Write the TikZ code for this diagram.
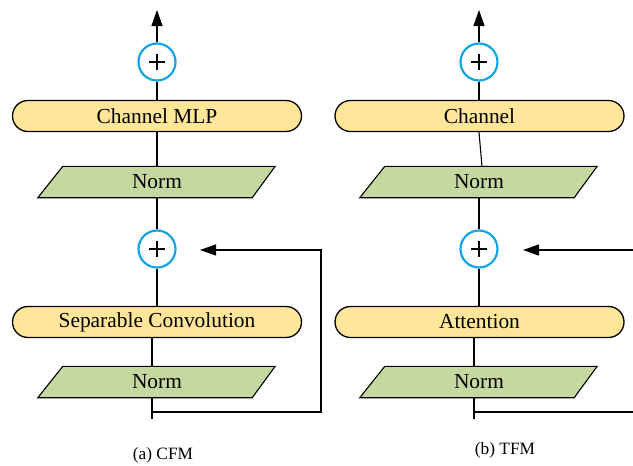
\documentclass[tikz,border=0pt]{standalone}
\usepackage{fontspec}
\setmainfont{Liberation Serif}
\usetikzlibrary{arrows.meta,calc}
\definecolor{pillfill}{HTML}{FFE699}
\definecolor{normfill}{HTML}{C5D8A0}
\definecolor{plusblue}{HTML}{12A5E6}
\pgfdeclarelayer{background}
\pgfsetlayers{background,main}
\tikzset{
  pill/.style={draw, line width=1.3pt, fill=pillfill, rounded corners=15.5pt,
    minimum width=289pt, minimum height=31pt, inner sep=0pt,
    font=\fontsize{21.4}{24}\selectfont},
  normtext/.style={minimum width=212pt, minimum height=31pt, inner sep=0pt,
    font=\fontsize{21.4}{24}\selectfont},
  normshape/.style={draw, line width=1.1pt, fill=normfill},
  plusnode/.style={circle, draw=plusblue, line width=2.2pt, minimum size=37pt, inner sep=0pt,
    path picture={\draw[line width=1.8pt,black]
      ([xshift=-8pt]path picture bounding box.center) -- ([xshift=8pt]path picture bounding box.center)
      ([yshift=-8pt]path picture bounding box.center) -- ([yshift=8pt]path picture bounding box.center);}},
  conn/.style={line width=1.1pt},
  arr/.style={line width=1.1pt, -{Triangle[length=16pt,width=11pt]}},
  captext/.style={font=\fontsize{17.3}{20}\selectfont, inner sep=0pt}
}
\newcommand\paraframe[1]{%
  \begin{pgfonlayer}{background}
  \path[normshape] ($(#1.south west)+(-13,0)$) -- ($(#1.south east)+(-11,0)$)
    -- ($(#1.north east)+(12,0)$) -- ($(#1.north west)+(12,0)$) -- cycle;
  \end{pgfonlayer}}
\begin{document}
\begin{tikzpicture}[x=1pt,y=-1pt]
\useasboundingbox (0,0) rectangle (633,466);
% ---------- left: CFM ----------
\node[plusnode] (pa1) at (157,62) {};
\node[pill] (ca) at (157,116) {Channel MLP};
\node[normtext] (na1) at (157,182) {Norm};
\paraframe{na1}
\node[plusnode] (pa2) at (157,249) {};
\node[pill] (sa) at (157,322) {Separable Convolution};
\node[normtext] (na2) at (157,382) {Norm};
\paraframe{na2}
\coordinate (outa) at (157,10);
\coordinate (ina) at (152,419);
\coordinate (skipa) at (152,412);
\coordinate (cornera) at (321,250);
\coordinate (tipa) at (200,250);
\draw[arr] (pa1) -- (outa);
\draw[conn] (ca.north) -- (pa1);
\draw[conn] (na1.north) -- (ca.south);
\draw[conn] (pa2) -- (na1.south);
\draw[conn] (sa.north) -- (pa2);
\draw[conn] ([xshift=-5pt]sa.south) -- ([xshift=-5pt]na2.north);
\draw[conn] (ina) -- ([xshift=-5pt]na2.south);
\draw[arr] (skipa) -| (cornera) -- (tipa);
% ---------- right: TFM ----------
\node[plusnode] (pb1) at (479,62) {};
\node[pill] (cb) at (479.5,116) {Channel};
\node[normtext] (nb1) at (479,182) {Norm};
\paraframe{nb1}
\node[plusnode] (pb2) at (479,249) {};
\node[pill] (ab) at (479.5,322) {Attention};
\node[normtext] (nb2) at (479,382) {Norm};
\paraframe{nb2}
\coordinate (outb) at (479,10);
\coordinate (inb) at (474,419);
\coordinate (skipb) at (474,412);
\coordinate (edgeb) at (633,412);
\coordinate (srcb) at (633,250);
\coordinate (tipb) at (523,250);
\draw[arr] (pb1) -- (outb);
\draw[conn] (cb.north -| pb1) -- (pb1);
\draw[conn] ([xshift=3pt]nb1.north) -- (cb.south -| pb1);
\draw[conn] (pb2) -- (nb1.south);
\draw[conn] (ab.north -| pb2) -- (pb2);
\draw[conn] ([xshift=-5pt]ab.south -| pb2) -- ([xshift=-5pt]nb2.north);
\draw[conn] (inb) -- ([xshift=-5pt]nb2.south);
\draw[conn] (skipb) -- (edgeb);
\draw[arr] (srcb) -- (tipb);
% ---------- captions ----------
\node[captext] (capa) at (163,455) {(a) CFM};
\node[captext] (capb) at (505,450) {(b) TFM};
\end{tikzpicture}
\end{document}
